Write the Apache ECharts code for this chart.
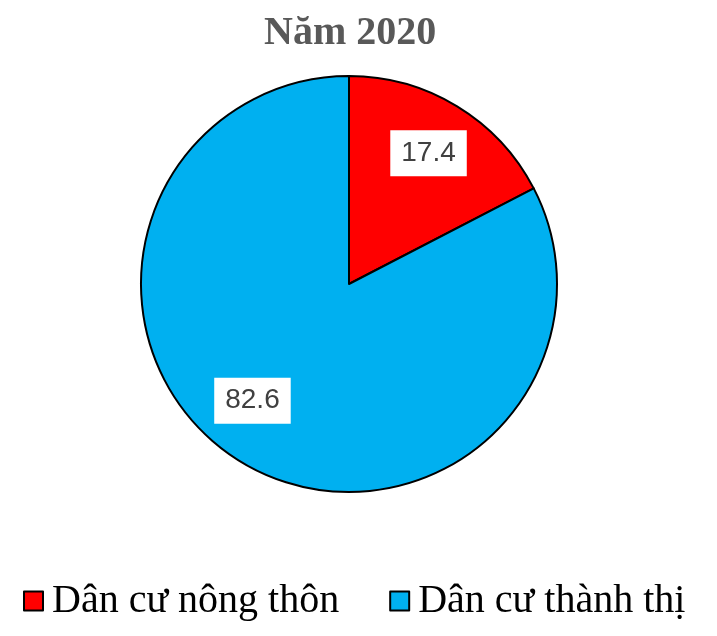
<!DOCTYPE html>
<html>
<head>
<meta charset="utf-8">
<script src="https://cdn.jsdelivr.net/npm/echarts@6/dist/echarts.min.js"></script>
<style>html,body{margin:0;padding:0;background:#fff}#c{width:717px;height:636px}</style>
</head>
<body>
<div id="c"></div>
<script>
const titleText = 'Năm 2020';
const categories = ['Dân cư nông thôn', 'Dân cư thành thị'];
const values = [17.4, 82.6];
const colors = ['#FF0000', '#00B0F0'];

const chart = echarts.init(document.getElementById('c'));
const pieData = categories.map((n, i) => ({ name: n, value: values[i], itemStyle: { color: colors[i] } }));
const labelData = categories.map((n, i) => ({
  name: n, value: values[i],
  label: i === 1 ? { offset: [-17, -14] } : {}
}));
chart.setOption({
  animation: false,
  title: {
    text: titleText, left: 259, top: 9,
    textStyle: { fontFamily: "'Times New Roman','Liberation Serif',serif", fontWeight: 'bold', fontSize: 40, color: '#595959' }
  },
  legend: {
    top: 576, left: 18,
    icon: 'rect', itemWidth: 19, itemHeight: 19, itemGap: 50,
    data: categories.map((n, i) => ({ name: n, itemStyle: { color: colors[i], borderColor: '#000', borderWidth: 2 } })),
    textStyle: { fontFamily: "'Times New Roman','Liberation Serif',serif", fontSize: 40, color: '#000', padding: [0, 0, 0, 4] }
  },
  series: [
    {
      type: 'pie', center: [349, 284], radius: [0, 208],
      startAngle: 90, clockwise: true,
      itemStyle: { borderColor: '#000', borderWidth: 2 },
      label: { show: false }, labelLine: { show: false },
      emphasis: { disabled: true },
      data: pieData
    },
    {
      type: 'pie', center: [349, 284], radius: [92, 208],
      startAngle: 90, clockwise: true, silent: true,
      itemStyle: { color: 'rgba(0,0,0,0)', borderWidth: 0 },
      label: {
        show: true, position: 'inside', formatter: p => p.value.toFixed(1),
        fontFamily: "Arial,'Liberation Sans',sans-serif", fontSize: 28, color: '#404040',
        backgroundColor: '#fff', padding: [8, 11], lineHeight: 30
      },
      labelLine: { show: false },
      emphasis: { disabled: true },
      data: labelData
    }
  ]
});
</script>
</body>
</html>
